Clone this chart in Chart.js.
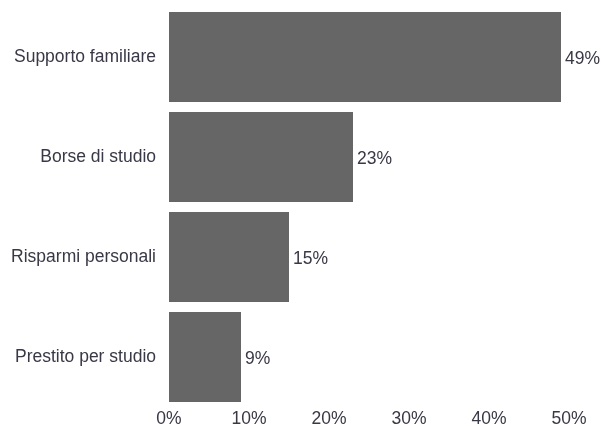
<!DOCTYPE html>
<html>
<head>
<meta charset="utf-8">
<script src="https://cdn.jsdelivr.net/npm/chart.js@4/dist/chart.umd.min.js"></script>
<style>
html,body{margin:0;padding:0;background:#fff;}
#wrap{width:601px;height:426px;position:relative;}
</style>
</head>
<body>
<div id="wrap"><canvas id="c" width="601" height="426"></canvas></div>
<script>
const categories = ["Supporto familiare", "Borse di studio", "Risparmi personali", "Prestito per studio"];
const values = [49, 23, 15, 9];
const tickValues = [0, 10, 20, 30, 40, 50];

const textColor = "#383846";
const fontFamily = "'Liberation Sans', Arial, sans-serif";
const fontSize = 17.5;

const valueLabels = {
  id: "valueLabels",
  afterDatasetsDraw(chart) {
    const ctx = chart.ctx;
    const meta = chart.getDatasetMeta(0);
    ctx.save();
    ctx.font = fontSize + "px " + fontFamily;
    ctx.fillStyle = textColor;
    ctx.textAlign = "left";
    ctx.textBaseline = "middle";
    meta.data.forEach((bar, i) => {
      ctx.fillText(values[i] + "%", bar.x + 4, bar.y + 2);
    });
    ctx.restore();
  }
};

new Chart(document.getElementById("c"), {
  type: "bar",
  data: {
    labels: categories,
    datasets: [{
      data: values,
      backgroundColor: "#666666",
      borderWidth: 0,
      barPercentage: 0.9,
      categoryPercentage: 1.0
    }]
  },
  options: {
    indexAxis: "y",
    responsive: false,
    animation: false,
    layout: { padding: { top: 7, right: 32, left: 0, bottom: 0 } },
    plugins: { legend: { display: false }, tooltip: { enabled: false } },
    scales: {
      x: {
        min: 0, max: 50,
        afterBuildTicks(axis) { axis.ticks = tickValues.map(v => ({ value: v })); },
        afterFit(axis) { axis.height = 19; axis.paddingLeft = 0; axis.paddingRight = 0; },
        grid: { display: false, drawTicks: false },
        border: { display: false },
        ticks: { padding: 2, color: textColor, font: { family: fontFamily, size: fontSize }, callback: v => v + "%", maxRotation: 0 }
      },
      y: {
        afterFit(axis) { axis.width = 169; axis.paddingTop = 0; axis.paddingBottom = 0; },
        grid: { display: false, drawTicks: false },
        border: { display: false },
        ticks: { padding: 13, color: textColor, font: { family: fontFamily, size: fontSize } }
      }
    }
  },
  plugins: [valueLabels]
});
</script>
</body>
</html>
